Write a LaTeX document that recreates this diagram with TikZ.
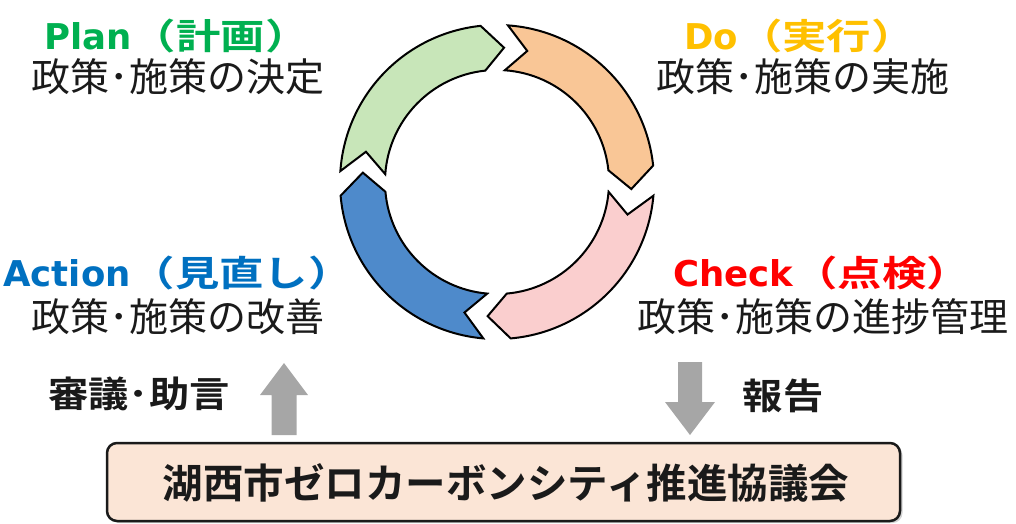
\documentclass[tikz,border=0pt]{standalone}
\usepackage{fontspec}
\usetikzlibrary{shadows}
\newfontfamily\jpreg{Noto Sans CJK JP}
\newfontfamily\jpbold{Noto Sans CJK JP Bold}
\newfontfamily\jpwide[FakeStretch=1.25]{Noto Sans CJK JP Bold}
\newfontfamily\jplbl[FakeStretch=1.12]{Noto Sans CJK JP Bold}
\newfontfamily\latb{DejaVu Sans Bold}
\definecolor{plangreen}{RGB}{0,176,80}
\definecolor{dogold}{RGB}{255,192,0}
\definecolor{actblue}{RGB}{0,112,192}
\definecolor{chkred}{RGB}{255,0,0}
\definecolor{ringgreen}{RGB}{200,230,185}
\definecolor{ringorange}{RGB}{249,198,150}
\definecolor{ringpink}{RGB}{250,206,206}
\definecolor{ringblue}{RGB}{78,138,203}
\definecolor{boxfill}{RGB}{251,229,214}
\definecolor{arrgray}{RGB}{166,166,166}
\definecolor{txt}{RGB}{26,26,26}
\newcommand\cycarrow[2]{%
  \path[cycl, fill=#2] (#1:157pt)
    arc[start angle=#1, end angle={#1-80}, radius=157pt]
    -- ({#1-89}:134.5pt) -- ({#1-80}:112pt)
    arc[start angle={#1-80}, end angle=#1, radius=112pt]
    -- ({#1-9}:134.5pt) -- cycle;}
\begin{document}
\begin{tikzpicture}[x=1pt,y=1pt,
  cycl/.style={draw=black, line width=2pt},
  ttl/.style={inner sep=0pt, anchor=center, font=\fontsize{35.5}{42}\selectfont},
  sub/.style={inner sep=0pt, anchor=center, text=txt, font=\jpreg\fontsize{39}{46}\selectfont},
  lbl/.style={inner sep=0pt, anchor=center, text=txt, font=\jplbl\fontsize{36}{42}\selectfont},
  blockarr/.style={fill=arrgray, draw=none}]
\useasboundingbox (0,0) rectangle (1016,-523);

% cycle ring
\begin{scope}[shift={(497,-182)}]
  \cycarrow{176}{ringgreen}
  \cycarrow{86}{ringorange}
  \cycarrow{-5}{ringpink}
  \cycarrow{-95}{ringblue}
\end{scope}

% labels of the four phases
\node[ttl, text=plangreen] (plant) at (177,-36) {{\latb Plan}{\jpwide （計画）}};
\node[sub] (plans) at (178,-77) {政策･施策の決定};
\node[ttl, text=dogold] (dot) at (800,-36) {{\latb Do}{\jpwide （実行）}};
\node[sub] (dos) at (803,-77) {政策･施策の実施};
\node[ttl, text=actblue] (actt) at (178,-273) {{\latb Action}{\jpwide （見直し）}};
\node[sub] (acts) at (178,-317) {政策･施策の改善};
\node[ttl, text=chkred] (chkt) at (822,-273) {{\latb Check}{\jpwide （点検）}};
\node[sub] (chks) at (823,-317) {政策･施策の進捗管理};

% council box
\node[draw=txt, line width=2.5pt, fill=boxfill, rounded corners=10pt,
      minimum width=793pt, minimum height=78pt, inner sep=0pt,
      drop shadow={shadow xshift=2.5pt, shadow yshift=-2pt, opacity=0.35}]
      (council) at (503.5,-482) {};
\node[inner sep=0pt, text=txt, font=\jpbold\fontsize{40.5}{46}\selectfont]
      (counciltxt) at (506,-483) {湖西市ゼロカーボンシティ推進協議会};

% side labels
\node[lbl] (advice) at (139,-394) {審議･助言};
\node[lbl] (report) at (783,-396) {報告};

% block arrows
\path[blockarr] (284,-363) -- (308,-395) -- (296.5,-395) -- (296.5,-435)
  -- (271.5,-435) -- (271.5,-395) -- (260,-395) -- cycle;
\path[blockarr] (690,-435) -- (715,-402) -- (702,-402) -- (702,-362)
  -- (678,-362) -- (678,-402) -- (665,-402) -- cycle;
\end{tikzpicture}
\end{document}
